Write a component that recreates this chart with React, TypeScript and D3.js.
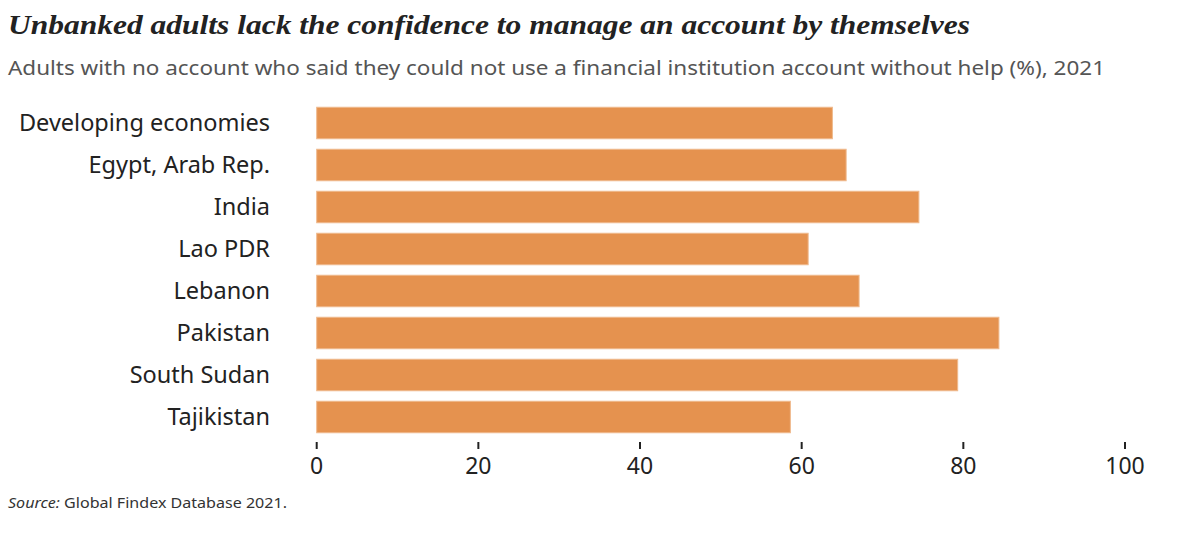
import React from "react";
import * as d3 from "d3";

const categories = [
  "Developing economies",
  "Egypt, Arab Rep.",
  "India",
  "Lao PDR",
  "Lebanon",
  "Pakistan",
  "South Sudan",
  "Tajikistan",
];
const values = [63.8, 65.5, 74.5, 60.8, 67.1, 84.4, 79.3, 58.6];
const xTicks = [0, 20, 40, 60, 80, 100];

const title = "Unbanked adults lack the confidence to manage an account by themselves";
const subtitle =
  "Adults with no account who said they could not use a financial institution account without help (%), 2021";

export default function App() {
  const W = 1194;
  const H = 548;
  const x = d3.scaleLinear().domain([0, 100]).range([316.7, 1125]);
  const y = d3
    .scaleBand<string>()
    .domain(categories)
    .range([102, 438])
    .paddingInner(0.25)
    .paddingOuter(0.125);
  const sans = "'Noto Sans', 'Open Sans', sans-serif";
  return (
    <svg
      width={W}
      height={H}
      style={{ position: "absolute", left: 0, top: 0, background: "#fff" }}
    >
      <text
        x={8}
        y={34}
        fontFamily="'Liberation Serif', 'DejaVu Serif', serif"
        fontStyle="italic"
        fontWeight={700}
        fontSize={28}
        fill="#222"
        textLength={962}
        lengthAdjust="spacingAndGlyphs"
      >
        {title}
      </text>
      <text
        x={8}
        y={75}
        fontFamily={sans}
        fontSize={19}
        fill="#555"
        textLength={1097}
        lengthAdjust="spacingAndGlyphs"
      >
        {subtitle}
      </text>
      {categories.map((c, i) => (
        <g key={c}>
          <rect
            x={x(0)}
            y={y(c)}
            width={x(values[i]) - x(0)}
            height={y.bandwidth()}
            fill="#e5924f"
            stroke="#efb98c"
            strokeWidth={1}
          />
          <text
            x={270}
            y={(y(c) as number) + y.bandwidth() / 2}
            dy="0.35em"
            textAnchor="end"
            fontFamily={sans}
            fontSize={23.5}
            fill="#222"
          >
            {c}
          </text>
        </g>
      ))}
      {xTicks.map((t) => (
        <g key={t} transform={`translate(${x(t)},0)`}>
          <line y1={442} y2={449} stroke="#222" strokeWidth={2} />
          <text
            y={474}
            textAnchor="middle"
            fontFamily={sans}
            fontSize={23}
            fill="#222"
          >
            {t}
          </text>
        </g>
      ))}
      <text
        x={8}
        y={508}
        fontFamily={sans}
        fontSize={14}
        fill="#333"
        textLength={279}
        lengthAdjust="spacingAndGlyphs"
      >
        <tspan fontStyle="italic">Source:</tspan> Global Findex Database 2021.
      </text>
    </svg>
  );
}
